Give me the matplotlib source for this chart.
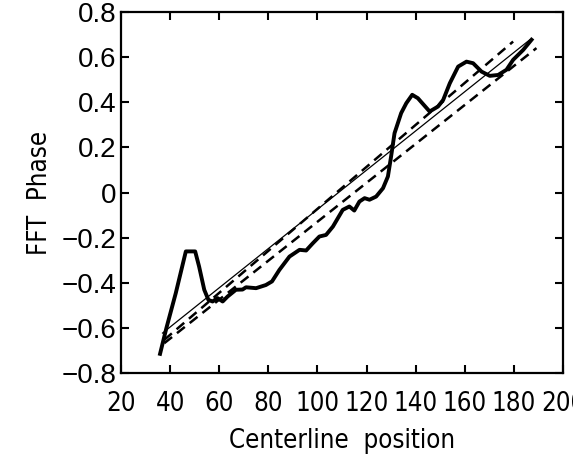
import matplotlib
matplotlib.use("Agg")
from matplotlib import pyplot as plt
from matplotlib import font_manager

# measured FFT phase along the centerline
pos = [35.9, 38.5, 42.3, 46.4, 50.2, 51.8, 53.9, 55.6, 57.3, 59.3, 61.4, 63.4,
       66.8, 69.5, 70.9, 75.0, 79.0, 81.5, 84.5, 88.6, 92.7, 95.4, 98.1, 100.8,
       103.5, 106.3, 110.3, 113.0, 115.0, 117.1, 119.2, 121.2, 123.9, 126.7,
       128.7, 130.0, 131.4, 134.1, 136.2, 138.6, 140.9, 145.7, 149.1, 151.2,
       153.9, 157.3, 160.7, 163.4, 166.8, 170.2, 173.6, 177.0, 179.7, 183.8,
       187.2]
phase = [-0.715, -0.60, -0.446, -0.261, -0.261, -0.328, -0.431, -0.476, -0.483,
         -0.468, -0.483, -0.461, -0.431, -0.430, -0.420, -0.424, -0.410, -0.394,
         -0.343, -0.284, -0.254, -0.257, -0.225, -0.195, -0.188, -0.151, -0.077,
         -0.062, -0.080, -0.040, -0.025, -0.032, -0.018, 0.019, 0.071, 0.160,
         0.263, 0.352, 0.396, 0.433, 0.418, 0.359, 0.381, 0.410, 0.484, 0.558,
         0.580, 0.573, 0.536, 0.517, 0.521, 0.544, 0.588, 0.632, 0.677]

# linear fit and its bounds (end points)
fit_x = [36.9, 186.5]
fit_y = [-0.623, 0.677]
upper_x = [37.6, 179.7]
upper_y = [-0.653, 0.669]
lower_x = [37.6, 189.2]
lower_y = [-0.668, 0.640]

xticks = [20, 40, 60, 80, 100, 120, 140, 160, 180, 200]
yticks = [-0.8, -0.6, -0.4, -0.2, 0, 0.2, 0.4, 0.6, 0.8]

# look for a narrow face, the labels in the reference are condensed
narrow = dict(fontfamily="Liberation Sans", fontsize=17)
for f in font_manager.fontManager.ttflist:
    if f.stretch in ("condensed", "semi-condensed", "extra-condensed") or \
            "Narrow" in f.name or "Condensed" in f.name:
        narrow = dict(fontfamily=f.name, fontstretch=f.stretch, fontsize=18.5)
        break

fig = plt.figure(figsize=(5.73, 4.65), dpi=100)
ax = fig.add_axes([0.2112, 0.1978, 0.7713, 0.7764])

ax.plot(pos, phase, c='black', lw=2.8, solid_joinstyle='round')
ax.plot(fit_x, fit_y, c='black', lw=0.9)
ax.plot(upper_x, upper_y, c='black', lw=1.8, dashes=(4, 2.5))
ax.plot(lower_x, lower_y, c='black', lw=1.8, dashes=(4, 2.5))

ax.set_xlim(20, 200)
ax.set_ylim(-0.8, 0.8)
ax.set_xticks(xticks)
ax.set_yticks(yticks)
ax.set_xticklabels([str(t) for t in xticks], **narrow)
ax.set_yticklabels(['\u22120.8', '\u22120.6', '\u22120.4', '\u22120.2', '0',
                    '0.2', '0.4', '0.6', '0.8'],
                   fontfamily="Liberation Sans", fontsize=20)
ax.tick_params(direction='in', top=True, right=True, length=6, width=1.5)
ax.tick_params(axis='x', pad=13)
for s in ax.spines.values():
    s.set_linewidth(1.6)

ax.set_xlabel('Centerline  position', labelpad=8, **narrow)
ax.set_ylabel('FFT  Phase', labelpad=6, **narrow)

fig.savefig('out.png', dpi=100)
